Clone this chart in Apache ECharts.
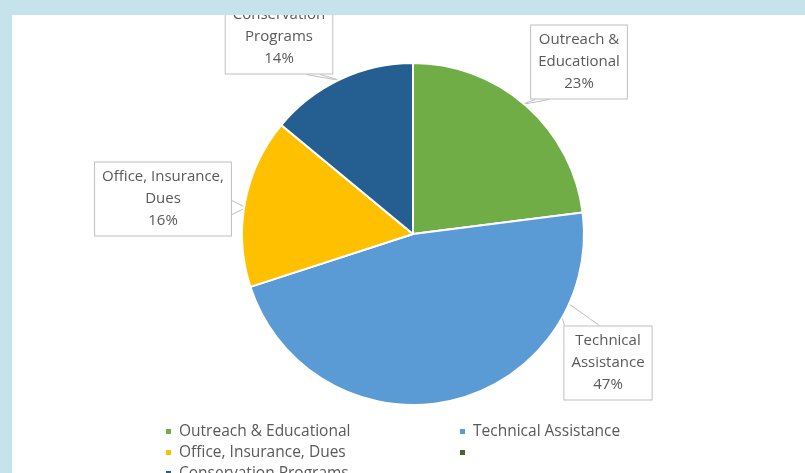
<!DOCTYPE html>
<html>
<head>
<meta charset="utf-8">
<script src="https://cdn.jsdelivr.net/npm/echarts@6/dist/echarts.min.js"></script>
<style>
  html, body { margin: 0; padding: 0; background: #c6e2ea; }
  #main { width: 805px; height: 473px; }
</style>
</head>
<body>
<div id="main"></div>
<script>
// categories and values (percent of budget)
var names = ['Outreach & Educational', 'Technical Assistance', 'Office, Insurance, Dues', ' ', 'Conservation Programs'];
var values = [23, 47, 16, 0, 14];
var labelNames = ['Outreach &\nEducational', 'Technical\nAssistance', 'Office, Insurance,\nDues', '', 'Conservation\nPrograms'];
var colors = ['#70ad47', '#5b9bd5', '#ffc000', '#43682b', '#255e91'];

// callout boxes: centre of box, angle (deg) and inset (px) of the pointer tip on the pie
var boxPos = [[579, 62], [608, 363], [163, 199], null, [279, 37]];
var tipAngle = [50, -23, 171, null, 115];
var tipInset = [2, 16, 2, 0, 2];

var pieCenter = [413, 234];
var pieRadius = 171;

var myChart = echarts.init(document.getElementById('main'));

var pieData = [];
for (var i = 0; i < names.length; i++) {
  var item = { name: names[i], value: values[i], itemStyle: { color: colors[i] } };
  if (values[i] === 0) {
    item.label = { show: false };
    item.labelLine = { show: false };
  }
  pieData.push(item);
}

// pointer: two points on the box edge and the tip on the pie
function calloutPoints(idx, w, h) {
  var c = boxPos[idx];
  var a = tipAngle[idx] * Math.PI / 180;
  var r = pieRadius - tipInset[idx];
  var tip = [pieCenter[0] + r * Math.cos(a), pieCenter[1] - r * Math.sin(a)];
  var x0 = c[0] - w / 2, x1 = c[0] + w / 2, y0 = c[1] - h / 2, y1 = c[1] + h / 2;
  var hw = 7;
  var p1, p2;
  if (tip[1] > y1) {
    var bx = Math.min(Math.max(tip[0], x0 + 12), x1 - 20);
    p1 = [bx - hw, y1]; p2 = [bx + hw, y1];
  } else if (tip[1] < y0) {
    var tx = Math.min(Math.max(tip[0], x0), x1 - 36);
    p1 = [tx + 1, y0]; p2 = [tx + 36, y0];
  } else if (tip[0] > x1) {
    var by = Math.min(Math.max(tip[1], y0 + 10), y1 - 10);
    p1 = [x1, by - hw]; p2 = [x1, by + hw];
  } else {
    var by2 = Math.min(Math.max(tip[1], y0 + 10), y1 - 10);
    p1 = [x0, by2 - hw]; p2 = [x0, by2 + hw];
  }
  return [p1, tip, p2];
}

var option = {
  backgroundColor: '#ffffff',
  animation: false,
  legend: {
    left: 164,
    top: 421,
    padding: 0,
    width: 620,
    itemGap: 0,
    itemWidth: 7,
    itemHeight: 7,
    icon: 'rect',
    selectedMode: false,
    textStyle: {
      fontFamily: 'Open Sans',
      fontSize: 15.5,
      color: '#595959',
      width: 279,
      lineHeight: 21,
      padding: [0, 0, 0, 2]
    },
    data: names
  },
  graphic: [
    { type: 'rect', z: 100, shape: { x: 0, y: 0, width: 805, height: 15 }, style: { fill: '#c6e2ea' } },
    { type: 'rect', z: 100, shape: { x: 0, y: 0, width: 12, height: 473 }, style: { fill: '#c6e2ea' } }
  ],
  series: [
    {
      type: 'pie',
      center: pieCenter,
      radius: pieRadius,
      startAngle: 90,
      clockwise: true,
      itemStyle: { borderColor: '#ffffff', borderWidth: 2 },
      label: {
        show: true,
        formatter: function (p) {
          return labelNames[p.dataIndex] + '\n' + p.percent + '%';
        },
        fontFamily: 'Open Sans',
        fontSize: 15,
        lineHeight: 22,
        color: '#595959',
        align: 'center',
        backgroundColor: '#ffffff',
        borderColor: '#bfbfbf',
        borderWidth: 1,
        padding: [4, 7, 3, 7]
      },
      labelLine: {
        show: true,
        showAbove: true,
        length: 10,
        length2: 10,
        lineStyle: { color: '#bfbfbf', width: 1 }
      },
      labelLayout: function (params) {
        var idx = params.dataIndex;
        var pos = boxPos[idx];
        if (!pos) return {};
        return {
          x: pos[0],
          y: pos[1],
          align: 'center',
          verticalAlign: 'middle',
          labelLinePoints: calloutPoints(idx, params.labelRect.width, params.labelRect.height)
        };
      },
      data: pieData
    }
  ]
};

myChart.setOption(option);
</script>
</body>
</html>
